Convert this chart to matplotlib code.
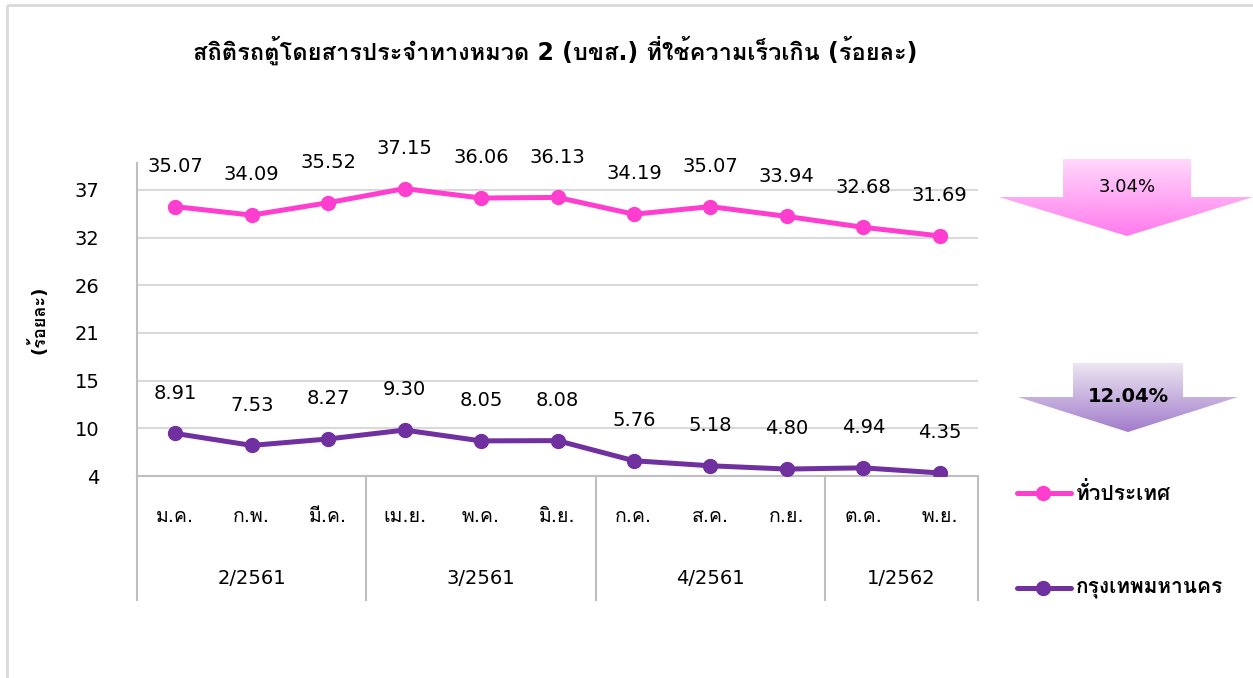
#!/usr/bin/env python3

import matplotlib
import matplotlib.pyplot as plt
import numpy as np
from matplotlib import font_manager, ft2font
from matplotlib.patches import Polygon, Rectangle
from matplotlib.transforms import blended_transform_factory

matplotlib.use("Agg")  # Use non-interactive backend

# ---- data -------------------------------------------------------------
title = "สถิติรถตู้โดยสารประจำทางหมวด 2 (บขส.) ที่ใช้ความเร็วเกิน (ร้อยละ)"
months = ["ม.ค.", "ก.พ.", "มี.ค.", "เม.ย.", "พ.ค.", "มิ.ย.",
          "ก.ค.", "ส.ค.", "ก.ย.", "ต.ค.", "พ.ย."]
quarters = ["2/2561", "3/2561", "4/2561", "1/2562"]
quarter_sizes = [3, 3, 3, 2]
national = [35.07, 34.09, 35.52, 37.15, 36.06, 36.13, 34.19, 35.07, 33.94, 32.68, 31.69]
bangkok = [8.91, 7.53, 8.27, 9.30, 8.05, 8.08, 5.76, 5.18, 4.80, 4.94, 4.35]
series_names = ["ทั่วประเทศ", "กรุงเทพมหานคร"]
change_labels = ["3.04%", "12.04%"]
y_ticks = [4, 9.5, 15, 20.5, 26, 31.5, 37]
y_tick_labels = ["4", "10", "15", "21", "26", "32", "37"]
y_label = "(ร้อยละ)"

PINK = "#FF3DCF"
PURPLE = "#7030A0"
GRID = "#D9D9D9"
AXIS = "#BFBFBF"


def find_thai_font():
    """Return the name of an installed font that has Thai glyphs, if any."""
    for f in font_manager.fontManager.ttflist:
        try:
            if 0x0E01 in ft2font.FT2Font(f.fname).get_charmap():
                return f.name
        except Exception:
            continue
    return None


thai = find_thai_font()
families = ["DejaVu Sans"] + ([thai] if thai else [])
plt.rcParams["font.family"] = families

W, H = 1253, 678
fig = plt.figure(figsize=(W / 100, H / 100), dpi=100)

# plot area in pixels: x 137..978, y 163..476
x0, x1, y0, y1 = 137, 978, 163, 476
ax = fig.add_axes([x0 / W, 1 - y1 / H, (x1 - x0) / W, (y1 - y0) / H])

x = np.arange(len(months))
ax.plot(x, national, color=PINK, lw=3.6, marker="o", ms=10, zorder=3)
ax.plot(x, bangkok, color=PURPLE, lw=3.6, marker="o", ms=10, zorder=3)

for xi, v in zip(x, national):
    ax.annotate(f"{v:.2f}", (xi, v), xytext=(0, 29), textcoords="offset points",
                ha="center", va="center", fontsize=14)
for xi, v in zip(x, bangkok):
    ax.annotate(f"{v:.2f}", (xi, v), xytext=(0, 29), textcoords="offset points",
                ha="center", va="center", fontsize=14)

ax.set_xlim(-0.5, len(months) - 0.5)
ax.set_ylim(4, 40.1)
ax.set_yticks(y_ticks)
ax.set_yticklabels(y_tick_labels, fontsize=14)
ax.tick_params(axis="y", length=0, pad=27)
ax.set_xticks([])
ax.grid(axis="y", color=GRID, lw=1.5)
ax.set_axisbelow(True)
for s in ["top", "right"]:
    ax.spines[s].set_visible(False)
ax.spines["left"].set_color(AXIS)
ax.spines["left"].set_linewidth(1.5)
ax.spines["bottom"].set_color(AXIS)
ax.spines["bottom"].set_linewidth(1.5)

# category axis below the plot (two levels)
plot_h = y1 - y0
trans = blended_transform_factory(ax.transData, ax.transAxes)
for xi, m in zip(x, months):
    ax.text(xi, -(517 - y1) / plot_h, m, transform=trans, ha="center",
            va="center", fontsize=14)
start = 0
bounds = [-0.5]
for q, n in zip(quarters, quarter_sizes):
    ax.text(start + (n - 1) / 2, -(578 - y1) / plot_h, q, transform=trans,
            ha="center", va="center", fontsize=14)
    start += n
    bounds.append(start - 0.5)
for b in bounds:
    ax.plot([b, b], [0, -(600 - y1) / plot_h], transform=trans, color=AXIS,
            lw=1.5, clip_on=False)

# overlay in pixel coordinates for title, frame, arrows and legend
ov = fig.add_axes([0, 0, 1, 1])
ov.set_xlim(0, W)
ov.set_ylim(H, 0)
ov.axis("off")

ov.add_patch(Rectangle((7, 5), W + 20, H + 20, fill=False, ec=GRID, lw=2))
ov.text(555, 50, title, ha="center", va="center", fontsize=17, fontweight="bold")
ov.text(38, 320, y_label, rotation=90, ha="center", va="center", fontsize=13,
        fontweight="bold")


def gradient_arrow(shaft_l, shaft_r, top, shoulder, head_l, head_r, tip_x, tip_y,
                   c_top, c_bot):
    pts = [(shaft_l, top), (shaft_r, top), (shaft_r, shoulder), (head_r, shoulder),
           (tip_x, tip_y), (head_l, shoulder), (shaft_l, shoulder)]
    poly = Polygon(pts, closed=True, fc="none", ec="none")
    ov.add_patch(poly)
    c1 = np.array(matplotlib.colors.to_rgb(c_top))
    c2 = np.array(matplotlib.colors.to_rgb(c_bot))
    t = np.linspace(0, 1, 100)[:, None]
    grad = (c1 * (1 - t) + c2 * t)[:, None, :]
    im = ov.imshow(grad, extent=(head_l, head_r, tip_y, top), aspect="auto",
                   interpolation="bilinear")
    im.set_clip_path(poly)


gradient_arrow(1063, 1191, 159, 197, 999, 1253, 1127, 236, "#FFD8FB", "#FF7BEE")
gradient_arrow(1073, 1183, 363, 397, 1018, 1238, 1128, 432, "#ECE6F2", "#A27CCB")
ov.set_xlim(0, W)
ov.set_ylim(H, 0)
ov.text(1127, 187, change_labels[0], ha="center", va="center", fontsize=13)
ov.text(1128, 397, change_labels[1], ha="center", va="center", fontsize=14,
        fontweight="bold")

# legend
for yy, col, name in [(493, PINK, series_names[0]), (588, PURPLE, series_names[1])]:
    ov.plot([1017, 1071], [yy, yy], color=col, lw=3.6, solid_capstyle="round")
    ov.plot([1043], [yy], color=col, marker="o", ms=10)
    ov.text(1076, yy, name, ha="left", va="center", fontsize=15, fontweight="bold")

fig.savefig("out.png", dpi=100)
